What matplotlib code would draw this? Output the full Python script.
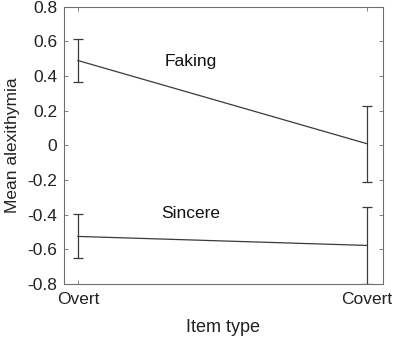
import matplotlib
matplotlib.use('Agg')
from matplotlib import pyplot as plt

plt.rcParams['font.family'] = ['Liberation Sans', 'DejaVu Sans']

# data
item_types = ['Overt', 'Covert']
faking_mean = [0.49, 0.01]
faking_err = [0.124, 0.22]
sincere_mean = [-0.525, -0.577]
sincere_err = [0.127, 0.22]
yticks = [-0.8, -0.6, -0.4, -0.2, 0, 0.2, 0.4, 0.6, 0.8]

x = [1, 2]

fig = plt.figure(figsize=(4.0, 3.39), dpi=100)
ax = fig.add_axes([0.16, 0.162, 0.797, 0.818])

line_c = '#3a3a3a'
ax.errorbar(x, faking_mean, yerr=faking_err, color=line_c, lw=0.9,
            capsize=3.4, capthick=0.9, elinewidth=0.9)
ax.errorbar(x, sincere_mean, yerr=sincere_err, color=line_c, lw=0.9,
            capsize=3.4, capthick=0.9, elinewidth=0.9)

ax.text(1.39, 0.483, 'Faking', fontsize=12.5, ha='center', va='center', color='#111111')
ax.text(1.39, -0.39, 'Sincere', fontsize=12.5, ha='center', va='center', color='#111111')

ax.set_xlim(0.952, 2.055)
ax.set_ylim(-0.8, 0.8)
ax.set_xticks(x)
ax.set_xticklabels(item_types)
ax.set_yticks(yticks)
ax.set_yticklabels(['%g' % v for v in yticks])
ax.set_xlabel('Item type', fontsize=13, color='#222222', labelpad=8)
ax.set_ylabel('Mean alexithymia', fontsize=12.5, color='#222222', labelpad=5)

for s in ax.spines.values():
    s.set_color('#6e6e6e')
    s.set_linewidth(0.8)
ax.tick_params(axis='both', direction='in', top=True, right=True, length=3,
               width=0.6, color='#6e6e6e', labelsize=12.5, labelcolor='#222222', pad=5)
ax.tick_params(axis='x', pad=6)

fig.savefig('out.png', dpi=100)
